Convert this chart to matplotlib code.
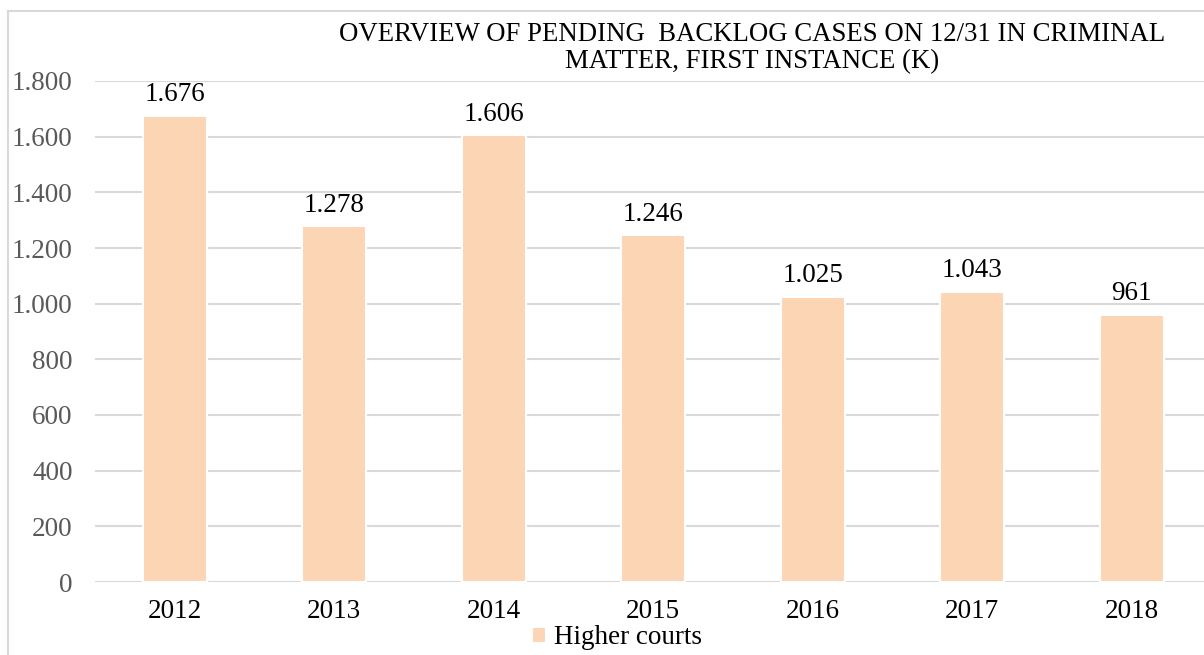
import matplotlib.pyplot as plt
from matplotlib.lines import Line2D
from matplotlib.ticker import FuncFormatter

years = ['2012', '2013', '2014', '2015', '2016', '2017', '2018']
higher_courts = [1676, 1278, 1606, 1246, 1025, 1043, 961]
yticks = [0, 200, 400, 600, 800, 1000, 1200, 1400, 1600, 1800]

plt.rcParams['font.family'] = ['Liberation Serif', 'DejaVu Serif']

W, H = 1204, 655
fig = plt.figure(figsize=(W / 100, H / 100), dpi=100)
ax = fig.add_axes([95 / W, 1 - 582 / H, (1211.5 - 95) / W, (582 - 81) / H])

bar_color = '#FCD5B4'
x = range(len(years))
bars = ax.bar(x, higher_courts, width=0.4, color=bar_color, edgecolor='white',
              linewidth=1.5, zorder=3, label='Higher courts')

def dotfmt(v, pos=None):
    return f'{int(v):,}'.replace(',', '.')

for b, v in zip(bars, higher_courts):
    ax.text(b.get_x() + b.get_width() / 2, v + 30, dotfmt(v), ha='center',
            va='bottom', fontsize=19.5, color='black')

ax.set_xlim(-0.5, len(years) - 0.5)
ax.set_ylim(0, 1800)
ax.set_yticks(yticks)
ax.yaxis.set_major_formatter(FuncFormatter(dotfmt))
ax.set_xticks(list(x))
ax.set_xticklabels(years)
ax.tick_params(axis='y', labelsize=19.5, labelcolor='#595959', length=0, pad=16)
ax.tick_params(axis='x', labelsize=19.5, labelcolor='black', length=0, pad=12)
ax.grid(axis='y', color='#D9D9D9', linewidth=1.5, zorder=0)
for s in ax.spines.values():
    s.set_visible(False)

fig.text(752 / W, 1 - 48 / H,
         'OVERVIEW OF PENDING  BACKLOG CASES ON 12/31 IN CRIMINAL\nMATTER, FIRST INSTANCE (K)',
         ha='center', va='center', fontsize=19.3, linespacing=1.12)

fig.legend(handles=[bars], labels=['Higher courts'], loc='center',
           bbox_to_anchor=(617 / W, 1 - 638 / H), frameon=False, fontsize=19.5,
           handlelength=0.5, handleheight=0.5, handletextpad=0.3,
           borderpad=0.1)

# chart area frame (left and top edges visible)
fig.add_artist(Line2D([8 / W, 8 / W], [0, 1 - 11 / H], color='#D9D9D9', lw=1.5))
fig.add_artist(Line2D([8 / W, 1], [1 - 11 / H, 1 - 11 / H], color='#D9D9D9', lw=1.5))

fig.savefig('out.png', dpi=100)
